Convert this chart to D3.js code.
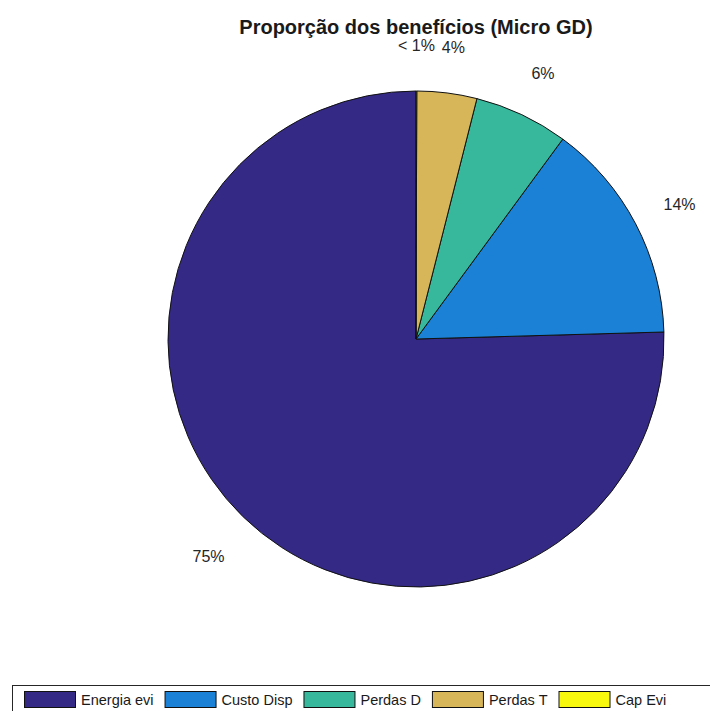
<!DOCTYPE html>
<html>
<head>
<meta charset="utf-8">
<script src="https://cdn.jsdelivr.net/npm/d3@7"></script>
<style>
  html, body { margin: 0; padding: 0; background: #fff; }
  svg { display: block; font-family: "Liberation Sans", Arial, sans-serif; }
</style>
</head>
<body>
<svg id="chart" width="710" height="711"></svg>
<script>
// Shares of the benefits (percent of total)
const categories = ["Energia evi", "Custo Disp", "Perdas D", "Perdas T", "Cap Evi"];
const shares = [75.45, 14.47, 6.13, 3.90, 0.05];
const sliceColors = ["#342a86", "#1a81d7", "#37b89c", "#d7b65a", "#f8f80f"];
const title = "Proporção dos benefícios (Micro GD)";

const svg = d3.select("#chart");
const cx = 416, cy = 339, r = 248;

svg.append("text")
  .attr("x", cx).attr("y", 34)
  .attr("text-anchor", "middle")
  .attr("font-weight", "bold")
  .attr("font-size", 20)
  .attr("fill", "#1a1a1a")
  .text(title);

// Slices run counter-clockwise from 12 o'clock
const pie = d3.pie().sort(null).startAngle(0).endAngle(-2 * Math.PI);
const arcs = pie(shares);
const arc = d3.arc().innerRadius(0).outerRadius(r);

const g = svg.append("g").attr("transform", `translate(${cx},${cy})`);
g.selectAll("path.slice")
  .data(arcs)
  .join("path")
  .attr("class", "slice")
  .attr("d", arc)
  .attr("fill", (d, i) => sliceColors[i])
  .attr("stroke", "#111")
  .attr("stroke-width", 1);

// Percentage labels at 1.2 × radius
const fmt = v => v < 1 ? "< 1%" : Math.round(v) + "%";
g.selectAll("text.pct")
  .data(arcs)
  .join("text")
  .attr("class", "pct")
  .attr("x", d => 1.2 * r * Math.sin((d.startAngle + d.endAngle) / 2))
  .attr("y", d => -1.2 * r * Math.cos((d.startAngle + d.endAngle) / 2) + 4)
  .attr("text-anchor", "middle")
  .attr("dominant-baseline", "central")
  .attr("font-size", 16)
  .attr("fill", "#262626")
  .text(d => fmt(d.data));

// Horizontal legend along the bottom
const legend = svg.append("g");
legend.append("rect")
  .attr("x", 12.5).attr("y", 685.5)
  .attr("width", 720).attr("height", 40)
  .attr("fill", "#fff")
  .attr("stroke", "#262626")
  .attr("stroke-width", 1);

let lx = 24;
categories.forEach((name, i) => {
  legend.append("rect")
    .attr("x", lx + 0.5).attr("y", 691.5)
    .attr("width", 51).attr("height", 16)
    .attr("fill", sliceColors[i])
    .attr("stroke", "#111")
    .attr("stroke-width", 1);
  const t = legend.append("text")
    .attr("x", lx + 57).attr("y", 705)
    .attr("font-size", 14.5)
    .attr("fill", "#1a1a1a")
    .text(name);
  lx += 57 + t.node().getComputedTextLength() + 11;
});
</script>
</body>
</html>
